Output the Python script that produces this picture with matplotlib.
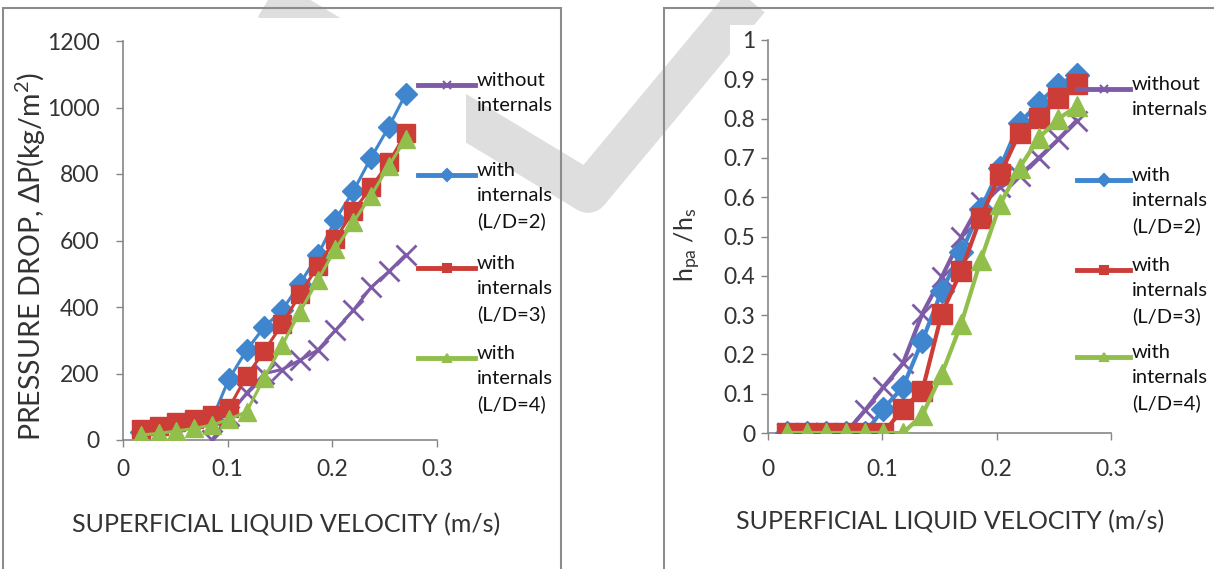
import numpy as np
import matplotlib
matplotlib.use('Agg')
from matplotlib import pyplot as plt
from matplotlib.lines import Line2D
from matplotlib.patches import Rectangle

plt.rcParams['font.family'] = ['Lato', 'DejaVu Sans']
plt.rcParams['mathtext.default'] = 'regular'

# superficial liquid velocity (m/s)
vel = [0.017, 0.034, 0.051, 0.068, 0.085, 0.101, 0.118, 0.135,
       0.152, 0.169, 0.186, 0.203, 0.220, 0.237, 0.254, 0.270]

# pressure drop (kg/m2)
dp_without = [0, 72, 141, 200, 212, 240, 270, 330, 390, 459, 507, 557]   # starts at vel[4]
dp_ld2 = [25, 35, 42, 50, 62, 182, 270, 340, 390, 470, 555, 663, 748, 849, 942, 1040]
dp_ld3 = [32, 42, 53, 62, 75, 95, 192, 268, 348, 438, 522, 605, 688, 760, 835, 922]
dp_ld4 = [15, 20, 27, 35, 45, 62, 85, 187, 285, 385, 480, 575, 655, 735, 825, 905]

# hpa/hs
h_without = [0, 0, 0, 0, 0.058, 0.117, 0.177, 0.304, 0.397, 0.498, 0.587, 0.625, 0.655, 0.70, 0.747, 0.795]
h_ld2 = [0, 0, 0, 0, 0, 0.062, 0.117, 0.235, 0.362, 0.46, 0.569, 0.675, 0.789, 0.84, 0.886, 0.912]
h_ld3 = [0, 0, 0, 0, 0, 0, 0.062, 0.108, 0.304, 0.413, 0.548, 0.658, 0.764, 0.802, 0.853, 0.887]
h_ld4 = [0, 0, 0, 0, 0, 0, 0, 0.046, 0.15, 0.278, 0.439, 0.582, 0.675, 0.751, 0.80, 0.831]

labels = ['without\ninternals', 'with\ninternals\n(L/D=2)',
          'with\ninternals\n(L/D=3)', 'with\ninternals\n(L/D=4)']

PURPLE = '#7d5ba6'
BLUE = '#3f86cf'
RED = '#cc3d38'
GREEN = '#92bf4c'
AXC = '#868686'
TXT = '#333333'

W, H = 1214, 569
fig = plt.figure(figsize=(W / 100, H / 100), dpi=100)


def fx(px):
    return px / W


def fy(py):
    return 1 - py / H


# watermark (light grey check mark) behind everything
fig.add_artist(Line2D([fx(262), fx(588), fx(752)], [fy(-5), fy(192), fy(-5)],
                      color='#dedede', lw=30, solid_joinstyle='round',
                      solid_capstyle='butt', zorder=-3))
# white plot areas covering the watermark
fig.add_artist(Rectangle((fx(98), fy(470)), fx(368), fy(18) - fy(470),
                         facecolor='white', edgecolor='none', zorder=-2))
fig.add_artist(Rectangle((fx(730), fy(470)), fx(400), fy(25) - fy(470),
                         facecolor='white', edgecolor='none', zorder=-2))
# panel frames
fig.add_artist(Rectangle((fx(3), fy(575)), fx(558), fy(8) - fy(575),
                         facecolor='none', edgecolor='#8c8c8c', lw=1.5, zorder=-1))
fig.add_artist(Rectangle((fx(664), fy(575)), fx(560), fy(8) - fy(575),
                         facecolor='none', edgecolor='#8c8c8c', lw=1.5, zorder=-1))

ax1 = fig.add_axes([fx(123), fy(440), fx(437 - 123), fy(41) - fy(440)])
ax2 = fig.add_axes([fx(768), fy(433), fx(1111 - 768), fy(40) - fy(433)])

for ax in (ax1, ax2):
    ax.set_facecolor('none')
    for s in ('top', 'right'):
        ax.spines[s].set_visible(False)
    for s in ('left', 'bottom'):
        ax.spines[s].set_color(AXC)
        ax.spines[s].set_linewidth(1.2)
    ax.tick_params(colors=AXC, labelcolor=TXT, labelsize=16.5, length=5, width=1)
    ax.set_xlim(0, 0.3)
    ax.set_xticks([0, 0.1, 0.2, 0.3])
    ax.set_xticklabels(['0', '0.1', '0.2', '0.3'])

# left chart
ax1.plot(vel[4:], dp_without, color=PURPLE, lw=2.2, marker='x', ms=14, mew=2, zorder=3)
ax1.plot(vel, dp_ld2, color=BLUE, lw=2.2, marker='D', ms=11, zorder=4)
ax1.plot(vel, dp_ld3, color=RED, lw=2.2, marker='s', ms=12.5, zorder=5)
ax1.plot(vel, dp_ld4, color=GREEN, lw=2.2, marker='^', ms=13, zorder=6)
ax1.set_ylim(0, 1200)
ax1.set_yticks(range(0, 1201, 200))
ax1.tick_params(axis='y', pad=12)
ax1.tick_params(axis='x', pad=9)
ax1.set_xlabel('SUPERFICIAL LIQUID VELOCITY (m/s)', fontsize=18, color=TXT)
ax1.xaxis.set_label_coords(0.519, -0.183)
ax1.set_ylabel('PRESSURE DROP, ΔP(kg/m$^2$)', fontsize=20.5, color=TXT)
ax1.yaxis.set_label_coords(-0.24, 0.459)

# right chart
ax2.plot(vel, h_without, color=PURPLE, lw=3, marker='x', ms=14, mew=2, zorder=3)
ax2.plot(vel, h_ld2, color=BLUE, lw=3, marker='D', ms=12, zorder=4)
ax2.plot(vel, h_ld3, color=RED, lw=3, marker='s', ms=14, zorder=5)
ax2.plot(vel, h_ld4, color=GREEN, lw=3, marker='^', ms=14, zorder=6)
ax2.set_ylim(0, 1)
ax2.set_yticks(np.arange(0, 1.01, 0.1))
ax2.set_yticklabels(['0', '0.1', '0.2', '0.3', '0.4', '0.5', '0.6', '0.7', '0.8', '0.9', '1'])
ax2.tick_params(axis='y', pad=4)
ax2.tick_params(axis='x', pad=14)
ax2.set_xlabel('SUPERFICIAL LIQUID VELOCITY (m/s)', fontsize=18, color=TXT)
ax2.xaxis.set_label_coords(0.531, -0.196)
ax2.set_ylabel('h$_{pa}$ /h$_s$', fontsize=18, color=TXT)
ax2.yaxis.set_label_coords(-0.19, 0.478)

# legends drawn by hand: handle level with the first text line
colors = [PURPLE, BLUE, RED, GREEN]
markers = ['x', 'D', 's', '^']
leg_left = [85, 175, 268, 358]
leg_right = [89, 180, 270, 357]
for (x0, x1, ys) in ((418, 475, leg_left), (1077, 1130, leg_right)):
    for c, m, lab, y in zip(colors, markers, labels, ys):
        fig.add_artist(Line2D([fx(x0), fx(x1)], [fy(y), fy(y)], color=c, lw=3.5, zorder=7))
        fig.add_artist(Line2D([fx((x0 + x1) / 2)], [fy(y)], color=c, marker=m,
                              ms=6, mew=1.5, zorder=8))
        fig.text(fx(x1 + 2), fy(y - 13), lab, fontsize=14.5, color='#111111',
                 va='top', ha='left', linespacing=1.55)

fig.savefig('out.png', dpi=100)
